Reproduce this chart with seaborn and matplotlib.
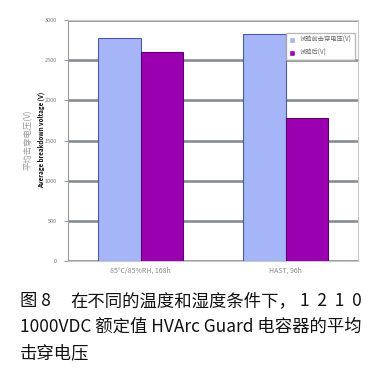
import matplotlib
matplotlib.use("Agg")
import matplotlib.pyplot as plt
import numpy as np
import pandas as pd
import seaborn as sns

# values
conditions = ["85°C/85%RH, 168h", "HAST, 96h"]
series = ["试验前击穿电压(V)", "试验后(V)"]
before_test = [2780, 2830]
after_test = [2600, 1780]
y_ticks = [0, 500, 1000, 1500, 2000, 2500, 3000]

caption_1 = ["图 8", "在不同的温度和湿度条件下，", "1  2  1  0"]
caption_2 = "1000VDC 额定值 HVArc Guard 电容器的平均"
caption_3 = "击穿电压"

df = pd.DataFrame({
    "condition": conditions * 2,
    "series": [series[0]] * 2 + [series[1]] * 2,
    "voltage": before_test + after_test,
})

sns.set_style("white")
plt.rcParams["font.family"] = ["Noto Sans CJK SC", "DejaVu Sans"]

fig = plt.figure(figsize=(3.81, 3.80), dpi=100)
ax = fig.add_axes([68 / 381, 1 - 261 / 380, 290 / 381, 241 / 380])

palette = ["#a6b5f7", "#9b00b0"]
sns.barplot(data=df, x="condition", y="voltage", hue="series", palette=palette,
            width=0.58, saturation=1, ax=ax, zorder=3)
for patch, edge in zip(ax.patches, ["#4a5aa8", "#4a5aa8", "#5a0070", "#5a0070"]):
    patch.set_edgecolor(edge)
    patch.set_linewidth(0.8)

ax.set_ylim(0, 3000)
ax.set_yticks(y_ticks)
ax.set_yticklabels([str(t) for t in y_ticks], fontsize=4, color="#777777")
ax.tick_params(axis="x", labelsize=5, colors="#888888", length=0, pad=4)
ax.tick_params(axis="y", length=3, width=0.8, color="#999999", pad=5, left=True)
ax.yaxis.grid(True, color="#868c94", linewidth=1.9)
ax.set_axisbelow(True)
ax.set_xlabel("")
ax.set_ylabel("")
for side in ["top", "right", "bottom"]:
    ax.spines[side].set_color("#c8c8c8")
    ax.spines[side].set_linewidth(0.8)
ax.spines["left"].set_color("#999999")
ax.spines["left"].set_linewidth(0.8)

leg = ax.legend(loc="upper right", bbox_to_anchor=(1.0, 0.96), fontsize=4.5,
                frameon=True, fancybox=False, edgecolor="#aaaaaa",
                handlelength=1.0, handleheight=1.0, borderpad=0.5,
                labelspacing=0.8)
for t in leg.get_texts():
    t.set_color("#666666")

fig.text(28 / 381, 1 - 140 / 380, "平均击穿电压(V)", rotation=90, fontsize=6,
         color="#999999", ha="center", va="center")
fig.text(41 / 381, 1 - 140 / 380, "Average breakdown voltage (V)", rotation=90,
         fontsize=4.5, color="#111111", fontweight="bold", ha="center", va="center")

cap = dict(fontsize=12.5, fontweight="medium", color="#111111", va="center")
fig.text(20 / 381, 1 - 301 / 380, caption_1[0], ha="left", **cap)
fig.text(70 / 381, 1 - 301 / 380, caption_1[1], ha="left", **cap)
fig.text(362 / 381, 1 - 301 / 380, caption_1[2], ha="right", **cap)
fig.text(20 / 381, 1 - 327 / 380, caption_2, ha="left", **cap)
fig.text(20 / 381, 1 - 353 / 380, caption_3, ha="left", **cap)

fig.savefig("out.png", dpi=100)
